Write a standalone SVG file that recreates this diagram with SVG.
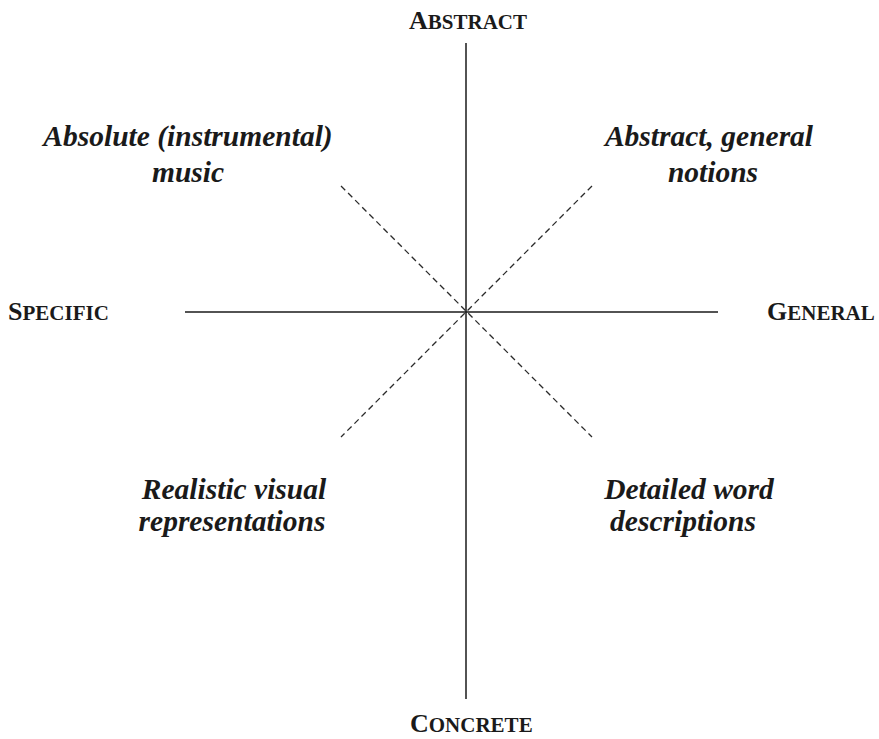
<svg xmlns="http://www.w3.org/2000/svg" width="879" height="739" viewBox="0 0 879 739">
<style>
.axis{stroke:#1a1a1a;stroke-width:1.5;fill:none}
.diag{stroke:#2a2a2a;stroke-width:1.3;stroke-dasharray:6 4;fill:none}
.pole{font-family:"Liberation Serif","Times New Roman",serif;font-weight:bold;fill:#1a1a1a}
.cap{font-size:26px}
.sc{font-size:21px}
.lbl{font-family:"Liberation Serif","Times New Roman",serif;font-weight:bold;font-style:italic;font-size:29.5px;fill:#1a1a1a;text-anchor:middle}
</style>
<rect width="879" height="739" fill="#fff"/>
<g id="connectors">
<line class="axis" x1="466" y1="43" x2="466" y2="699"/>
<line class="axis" x1="185" y1="312" x2="718" y2="312"/>
<line class="diag" x1="341" y1="186" x2="592" y2="437"/>
<line class="diag" x1="592" y1="186" x2="341" y2="437"/>
</g>
<g id="abstract"><text class="pole" x="409" y="29"><tspan class="cap">A</tspan><tspan class="sc">BSTRACT</tspan></text></g>
<g id="specific"><text class="pole" x="8" y="320"><tspan class="cap">S</tspan><tspan class="sc">PECIFIC</tspan></text></g>
<g id="general"><text class="pole" x="767" y="320"><tspan class="cap">G</tspan><tspan class="sc">ENERAL</tspan></text></g>
<g id="concrete"><text class="pole" x="410" y="732"><tspan class="cap">C</tspan><tspan class="sc">ONCRETE</tspan></text></g>
<g id="absolute-music"><text class="lbl"><tspan x="188" y="146">Absolute (instrumental)</tspan><tspan x="188" y="182">music</tspan></text></g>
<g id="abstract-notions"><text class="lbl"><tspan x="709" y="146">Abstract, general</tspan><tspan x="713" y="182">notions</tspan></text></g>
<g id="realistic-visual"><text class="lbl"><tspan x="234" y="499">Realistic visual</tspan><tspan x="232" y="531">representations</tspan></text></g>
<g id="detailed-word"><text class="lbl"><tspan x="689" y="499">Detailed word</tspan><tspan x="683" y="531">descriptions</tspan></text></g>
</svg>
